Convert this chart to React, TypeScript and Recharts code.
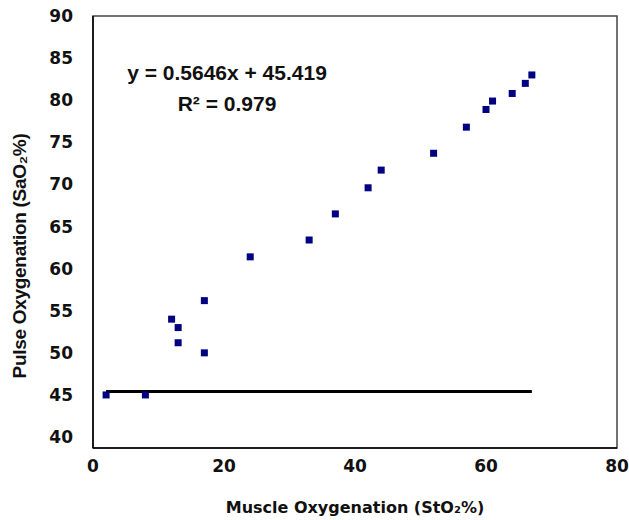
import { ReferenceArea, Scatter, ScatterChart, XAxis, YAxis } from 'recharts';

// muscle oxygenation (StO2 %) vs pulse oxygenation (SaO2 %)
const stO2 = [2, 8, 12, 13, 13, 17, 17, 24, 33, 37, 42, 44, 52, 57, 60, 61, 64, 66, 67];
const saO2 = [45, 45, 54, 53, 51.2, 56.2, 50, 61.4, 63.4, 66.5, 69.6, 71.7, 73.7, 76.8, 78.9, 79.9, 80.8, 82, 83];

// flat line as drawn in the figure
const lineX = [2, 67];
const lineY = [45.4, 45.4];

const xTicks = [0, 20, 40, 60, 80];
const yTicks = [40, 45, 50, 55, 60, 65, 70, 75, 80, 85, 90];

const points = stO2.map((x, i) => ({ x, y: saO2[i] }));
const linePoints = lineX.map((x, i) => ({ x, y: lineY[i] }));

const tickFont = { fontFamily: 'DejaVu Sans', fontWeight: 700, fontSize: 17, fill: '#111' };

const Square = (props: any) => (
  <rect x={props.cx - 3.5} y={props.cy - 3.5} width={7} height={7} fill="#000080" />
);

const YTitle = () => (
  <text
    x={26}
    y={256}
    transform="rotate(-90 26 256)"
    textAnchor="middle"
    fontFamily="Liberation Sans"
    fontWeight={700}
    fontSize={19}
    letterSpacing={-0.3}
    fill="#111"
  >
    Pulse Oxygenation (SaO₂%)
  </text>
);

export default function App() {
  return (
    <div style={{ position: 'absolute', left: 0, top: 0, width: 629, height: 520, background: '#fff' }}>
      <ScatterChart width={629} height={520} margin={{ top: 16, right: 12, bottom: 0, left: 0 }}>
        <ReferenceArea x1={0} x2={80} y1={38.7} y2={90} fill="none" stroke="#444" strokeWidth={1.5} />
        <XAxis
          type="number"
          dataKey="x"
          domain={[0, 80]}
          ticks={xTicks}
          height={72}
          tickLine={false}
          tickSize={0}
          tickMargin={12}
          tick={tickFont}
          axisLine={{ stroke: '#000', strokeWidth: 1.5 }}
          label={{
            value: 'Muscle Oxygenation (StO₂%)',
            position: 'insideBottom',
            offset: 7,
            style: { fontFamily: 'DejaVu Sans', fontWeight: 700, fontSize: 16, fill: '#111' },
          }}
        />
        <YAxis
          type="number"
          dataKey="y"
          domain={[38.7, 90]}
          ticks={yTicks}
          width={93}
          tickLine={false}
          tickSize={0}
          tickMargin={20}
          tick={tickFont}
          axisLine={{ stroke: '#000', strokeWidth: 1.5 }}
          label={{ content: () => <YTitle /> }}
        />
        <Scatter
          data={linePoints}
          line={{ stroke: '#000', strokeWidth: 3 }}
          shape={() => <g />}
          isAnimationActive={false}
        />
        <Scatter data={points} shape={Square} isAnimationActive={false} />
      </ScatterChart>
      <div
        style={{
          position: 'absolute',
          left: 227,
          top: 60,
          transform: 'translateX(-50%)',
          whiteSpace: 'nowrap',
          fontFamily: 'Liberation Sans',
          fontWeight: 700,
          fontSize: 21,
          color: '#111',
          lineHeight: '25px',
          textAlign: 'center',
        }}
      >
        <div>y = 0.5646x + 45.419</div>
        <div style={{ marginTop: 6 }}>R² = 0.979</div>
      </div>
    </div>
  );
}
